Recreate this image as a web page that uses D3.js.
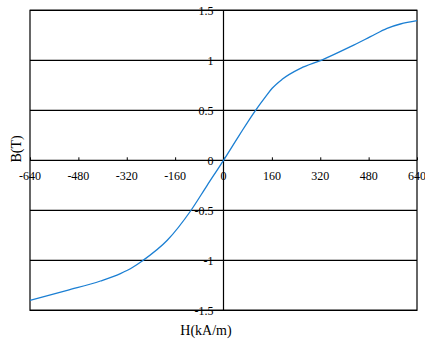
<!DOCTYPE html>
<html>
<head>
<meta charset="utf-8">
<script src="https://cdn.jsdelivr.net/npm/d3@7"></script>
<style>
  html, body { margin: 0; padding: 0; background: #fff; }
  svg { display: block; }
</style>
</head>
<body>
<svg id="chart" width="425" height="342"></svg>
<script>
// Magnetisation curve B(H)
const hValues = [-640, -517, -407, -341, -300, -269, -186, -109, -54, 0,
                 52, 106, 140, 161, 194, 255, 323, 420, 486, 541, 585, 640];
const bValues = [-1.40, -1.30, -1.207, -1.133, -1.07, -1.007, -0.80, -0.507, -0.25, 0,
                 0.25, 0.5, 0.64, 0.72, 0.81, 0.92, 1.0, 1.136, 1.236, 1.32, 1.363, 1.396];
const xTicks = [-640, -480, -320, -160, 0, 160, 320, 480, 640];
const yTicks = [-1.5, -1, -0.5, 0, 0.5, 1, 1.5];
const xTitle = "H(kA/m)";
const yTitle = "B(T)";

const FONT = "'Liberation Serif', 'Times New Roman', Times, serif";

const svg = d3.select("#chart");
const plotL = 30, plotR = 417, plotT = 10.3, plotB = 310.3;

const x = d3.scaleLinear().domain([-640, 640]).range([plotL, plotR]);
const y = d3.scaleLinear().domain([-1.5, 1.5]).range([plotB, plotT]);

// horizontal gridlines
svg.append("g").selectAll("line").data(yTicks).join("line")
  .attr("x1", plotL).attr("x2", plotR)
  .attr("y1", d => y(d)).attr("y2", d => y(d))
  .attr("stroke", "#000").attr("stroke-width", 1.2);

// frame
svg.append("rect")
  .attr("x", plotL).attr("y", plotT)
  .attr("width", plotR - plotL).attr("height", plotB - plotT)
  .attr("fill", "none").attr("stroke", "#000").attr("stroke-width", 1.2);

// x axis through B = 0 with inward ticks
const xAxis = d3.axisTop(x).tickValues(xTicks).tickSize(3).tickFormat("");
const gx = svg.append("g").attr("transform", `translate(0,${y(0)})`).call(xAxis);
gx.select(".domain").remove();
gx.selectAll("line").attr("stroke", "#000").attr("stroke-width", 1);

svg.append("g").selectAll("text").data(xTicks).join("text")
  .attr("x", d => x(d)).attr("y", y(0) + 20)
  .attr("text-anchor", "middle")
  .attr("font-family", FONT)
  .attr("font-size", 12)
  .attr("fill", "#000")
  .text(d => d);

// y axis through H = 0
svg.append("line")
  .attr("x1", x(0)).attr("x2", x(0))
  .attr("y1", plotT).attr("y2", plotB)
  .attr("stroke", "#000").attr("stroke-width", 1.2);

svg.append("g").selectAll("text").data(yTicks).join("text")
  .attr("x", x(0) - 10).attr("y", d => y(d))
  .attr("dy", "0.35em")
  .attr("text-anchor", "end")
  .attr("font-family", FONT)
  .attr("font-size", 12)
  .attr("fill", "#000")
  .text(d => d);

// curve
const pts = hValues.map((h, i) => [h, bValues[i]]);
const line = d3.line()
  .x(d => x(d[0])).y(d => y(d[1]))
  .curve(d3.curveMonotoneX);
svg.append("path")
  .attr("d", line(pts))
  .attr("fill", "none")
  .attr("stroke", "#1b7fd3")
  .attr("stroke-width", 1.3);

// axis titles
svg.append("text")
  .attr("x", 206).attr("y", 335)
  .attr("text-anchor", "middle")
  .attr("font-family", FONT)
  .attr("font-size", 14)
  .attr("fill", "#000")
  .text(xTitle);

svg.append("text")
  .attr("transform", "translate(21,149) rotate(-90)")
  .attr("text-anchor", "middle")
  .attr("font-family", FONT)
  .attr("font-size", 14)
  .attr("fill", "#000")
  .text(yTitle);
</script>
</body>
</html>
